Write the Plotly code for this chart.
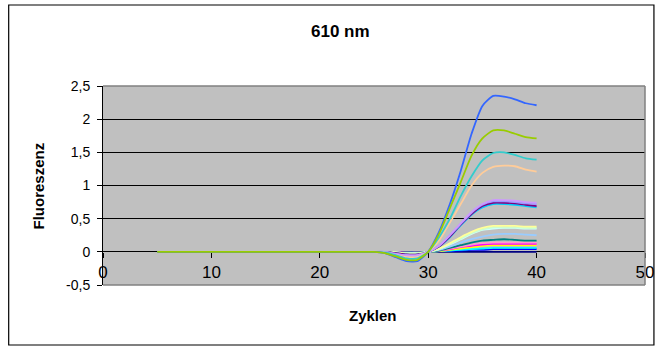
import plotly.graph_objects as go

# Amplification curves, 610 nm channel: fluorescence per PCR cycle (5..40)
cycles = list(range(5, 41))

navy_000080 = [0, 0, 0, 0, 0, 0, 0, 0, 0, 0, 0, 0, 0, 0, 0, 0, 0, 0, 0, 0,
               0, 0, 0, 0, 0, 0, 0, 0, 0, 0, 0, 0, 0, 0, 0, 0]
blue_0000FF = [0, 0, 0, 0, 0, 0, 0, 0, 0, 0, 0, 0, 0, 0, 0, 0, 0, 0, 0, 0,
               0, 0, 0, 0, 0, 0, 0.01, 0.01, 0.02, 0.03, 0.03, 0.04, 0.04, 0.04, 0.04, 0.04]
cyan_00FFFF = [0, 0, 0, 0, 0, 0, 0, 0, 0, 0, 0, 0, 0, 0, 0, 0, 0, 0, 0, 0,
               0, 0, 0, -0.01, -0.01, 0, 0.01, 0.02, 0.03, 0.04, 0.05, 0.06, 0.06, 0.06, 0.06, 0.06]
yellow_FFFF00 = [0, 0, 0, 0, 0, 0, 0, 0, 0, 0, 0, 0, 0, 0, 0, 0, 0, 0, 0, 0,
                 0, 0, 0, -0.01, -0.01, 0, 0.01, 0.03, 0.05, 0.07, 0.09, 0.10, 0.10, 0.10, 0.10, 0.10]
magenta_FF00FF = [0, 0, 0, 0, 0, 0, 0, 0, 0, 0, 0, 0, 0, 0, 0, 0, 0, 0, 0, 0,
                  0, 0, 0, -0.01, -0.01, 0, 0.02, 0.04, 0.07, 0.09, 0.11, 0.12, 0.12, 0.12, 0.12, 0.12]
pink_FF99CC = [0, 0, 0, 0, 0, 0, 0, 0, 0, 0, 0, 0, 0, 0, 0, 0, 0, 0, 0, 0,
               0, 0, -0.01, -0.02, -0.02, 0, 0.02, 0.05, 0.08, 0.11, 0.13, 0.14, 0.14, 0.14, 0.14, 0.14]
teal_008080 = [0, 0, 0, 0, 0, 0, 0, 0, 0, 0, 0, 0, 0, 0, 0, 0, 0, 0, 0, 0,
               0, 0, -0.01, -0.01, -0.01, 0, 0.02, 0.06, 0.10, 0.14, 0.17, 0.18, 0.19, 0.18, 0.17, 0.17]
lightblue_99CCFF = [0, 0, 0, 0, 0, 0, 0, 0, 0, 0, 0, 0, 0, 0, 0, 0, 0, 0, 0, 0,
                    0, 0, -0.01, -0.02, -0.02, 0, 0.03, 0.08, 0.14, 0.19, 0.23, 0.26, 0.27, 0.27, 0.26, 0.25]
palecyan_CCFFFF = [0, 0, 0, 0, 0, 0, 0, 0, 0, 0, 0, 0, 0, 0, 0, 0, 0, 0, 0, 0,
                   0, 0, -0.01, -0.02, -0.02, 0, 0.04, 0.11, 0.19, 0.27, 0.33, 0.35, 0.36, 0.36, 0.35, 0.35]
palegreen_CCFFCC = [0, 0, 0, 0, 0, 0, 0, 0, 0, 0, 0, 0, 0, 0, 0, 0, 0, 0, 0, 0,
                    0, 0, -0.01, -0.02, -0.02, 0, 0.04, 0.12, 0.20, 0.28, 0.34, 0.37, 0.37, 0.37, 0.36, 0.36]
lightyellow_FFFF99 = [0, 0, 0, 0, 0, 0, 0, 0, 0, 0, 0, 0, 0, 0, 0, 0, 0, 0, 0, 0,
                      0, 0, -0.01, -0.03, -0.03, 0, 0.05, 0.13, 0.22, 0.30, 0.36, 0.39, 0.39, 0.39, 0.38, 0.38]
sky_00CCFF = [0, 0, 0, 0, 0, 0, 0, 0, 0, 0, 0, 0, 0, 0, 0, 0, 0, 0, 0, 0,
              0, 0, -0.02, -0.04, -0.04, 0, 0.08, 0.22, 0.40, 0.56, 0.67, 0.72, 0.72, 0.71, 0.69, 0.67]
purple_800080 = [0, 0, 0, 0, 0, 0, 0, 0, 0, 0, 0, 0, 0, 0, 0, 0, 0, 0, 0, 0,
                 0, 0, -0.02, -0.04, -0.04, 0, 0.08, 0.23, 0.41, 0.57, 0.69, 0.74, 0.74, 0.73, 0.71, 0.69]
periwinkle_9999FF = [0, 0, 0, 0, 0, 0, 0, 0, 0, 0, 0, 0, 0, 0, 0, 0, 0, 0, 0, 0,
                     0, 0, -0.03, -0.05, -0.05, 0, 0.09, 0.25, 0.42, 0.59, 0.71, 0.76, 0.76, 0.75, 0.73, 0.72]
lavender_CC99FF = [0, 0, 0, 0, 0, 0, 0, 0, 0, 0, 0, 0, 0, 0, 0, 0, 0, 0, 0, 0,
                   0, 0, -0.03, -0.05, -0.05, 0, 0.09, 0.25, 0.43, 0.60, 0.72, 0.78, 0.78, 0.77, 0.75, 0.74]
peach_FFCC99 = [0, 0, 0, 0, 0, 0, 0, 0, 0, 0, 0, 0, 0, 0, 0, 0, 0, 0, 0, 0,
                0, -0.01, -0.05, -0.08, -0.08, 0, 0.17, 0.44, 0.72, 1.00, 1.19, 1.28, 1.30, 1.29, 1.24, 1.21]
turquoise_33CCCC = [0, 0, 0, 0, 0, 0, 0, 0, 0, 0, 0, 0, 0, 0, 0, 0, 0, 0, 0, 0,
                    0, -0.01, -0.05, -0.10, -0.10, 0, 0.22, 0.50, 0.84, 1.14, 1.38, 1.49, 1.50, 1.46, 1.41, 1.39]
blue_3366FF = [0, 0, 0, 0, 0, 0, 0, 0, 0, 0, 0, 0, 0, 0, 0, 0, 0, 0, 0, 0,
               0, -0.02, -0.08, -0.14, -0.14, 0, 0.30, 0.72, 1.22, 1.78, 2.20, 2.35, 2.34, 2.30, 2.24, 2.21]
green_99CC00 = [0, 0, 0, 0, 0, 0, 0, 0, 0, 0, 0, 0, 0, 0, 0, 0, 0, 0, 0, 0,
                0, -0.02, -0.07, -0.12, -0.12, 0, 0.27, 0.66, 1.05, 1.45, 1.71, 1.83, 1.83, 1.78, 1.73, 1.71]

series = [
    (navy_000080, "#000080"), (blue_0000FF, "#0000FF"), (cyan_00FFFF, "#00FFFF"),
    (yellow_FFFF00, "#FFFF00"), (magenta_FF00FF, "#FF00FF"), (pink_FF99CC, "#FF99CC"),
    (teal_008080, "#008080"), (lightblue_99CCFF, "#99CCFF"), (palecyan_CCFFFF, "#CCFFFF"),
    (palegreen_CCFFCC, "#CCFFCC"), (lightyellow_FFFF99, "#FFFF99"), (sky_00CCFF, "#00CCFF"),
    (purple_800080, "#800080"), (periwinkle_9999FF, "#9999FF"), (lavender_CC99FF, "#CC99FF"),
    (peach_FFCC99, "#FFCC99"), (turquoise_33CCCC, "#33CCCC"), (blue_3366FF, "#3366FF"),
    (green_99CC00, "#99CC00"),
]

x_ticks = [0, 10, 20, 30, 40, 50]
y_ticks = [-0.5, 0, 0.5, 1, 1.5, 2, 2.5]
y_tick_text = ["-0,5", "0", "0,5", "1", "1,5", "2", "2,5"]

W, H = 666, 348
L, R, T, B = 103, 17, 86, 63
PW, PH = W - L - R, H - T - B


def px_x(px):
    return (px - L) / PW


def px_y(py):
    return (H - B - py) / PH


FONT = "Arial, Liberation Sans, sans-serif"

fig = go.Figure()
for values, color in series:
    fig.add_trace(go.Scatter(
        x=cycles, y=values, mode="lines",
        line=dict(color=color, width=1.8, shape="spline", smoothing=0.6),
        showlegend=False, hoverinfo="skip",
    ))

fig.update_layout(
    width=W, height=H,
    margin=dict(l=L, r=R, t=T, b=B),
    paper_bgcolor="white",
    plot_bgcolor="#C0C0C0",
    font=dict(family=FONT, color="black"),
    xaxis=dict(
        # the horizontal axis crosses at y = 0; its line is the y = 0 gridline
        range=[0, 50], tickvals=x_ticks, ticks="outside", ticklen=5,
        tickcolor="black", tickfont=dict(size=17, family=FONT),
        showline=False, showgrid=False, zeroline=False,
        anchor="free", position=1 / 6, layer="below traces",
    ),
    yaxis=dict(
        range=[-0.5, 2.5], tickvals=y_ticks, ticktext=y_tick_text,
        ticks="outside", ticklen=5, tickcolor="black",
        tickfont=dict(size=14, family=FONT), ticklabelstandoff=4,
        showline=True, linecolor="black", linewidth=1,
        showgrid=True, gridcolor="black", gridwidth=1,
        zeroline=False, layer="below traces",
    ),
    shapes=[
        # outer chart frame
        dict(type="rect", xref="paper", yref="paper",
             x0=px_x(8), x1=px_x(658), y0=px_y(345), y1=px_y(5),
             line=dict(color="black", width=1.2), layer="below"),
        # plot area border (top, right, bottom)
        dict(type="line", xref="paper", yref="paper", x0=0, x1=1, y0=1, y1=1,
             line=dict(color="#808080", width=1.5), layer="above"),
        dict(type="line", xref="paper", yref="paper", x0=1, x1=1, y0=0, y1=1,
             line=dict(color="#808080", width=1.5), layer="above"),
        dict(type="line", xref="paper", yref="paper", x0=0, x1=1, y0=0, y1=0,
             line=dict(color="#808080", width=1.5), layer="above"),
    ],
    annotations=[
        dict(text="<b>610 nm</b>", xref="paper", yref="paper",
             x=px_x(342), y=px_y(32), xanchor="center", yanchor="middle",
             showarrow=False, font=dict(size=17, family=FONT)),
        dict(text="<b>Zyklen</b>", xref="paper", yref="paper",
             x=px_x(375), y=px_y(315), xanchor="center", yanchor="middle",
             showarrow=False, font=dict(size=15, family=FONT)),
        dict(text="<b>Fluoreszenz</b>", xref="paper", yref="paper",
             x=px_x(38), y=px_y(186), xanchor="center", yanchor="middle",
             textangle=-90, showarrow=False, font=dict(size=15, family=FONT)),
    ],
)

fig.write_html("out.html")
